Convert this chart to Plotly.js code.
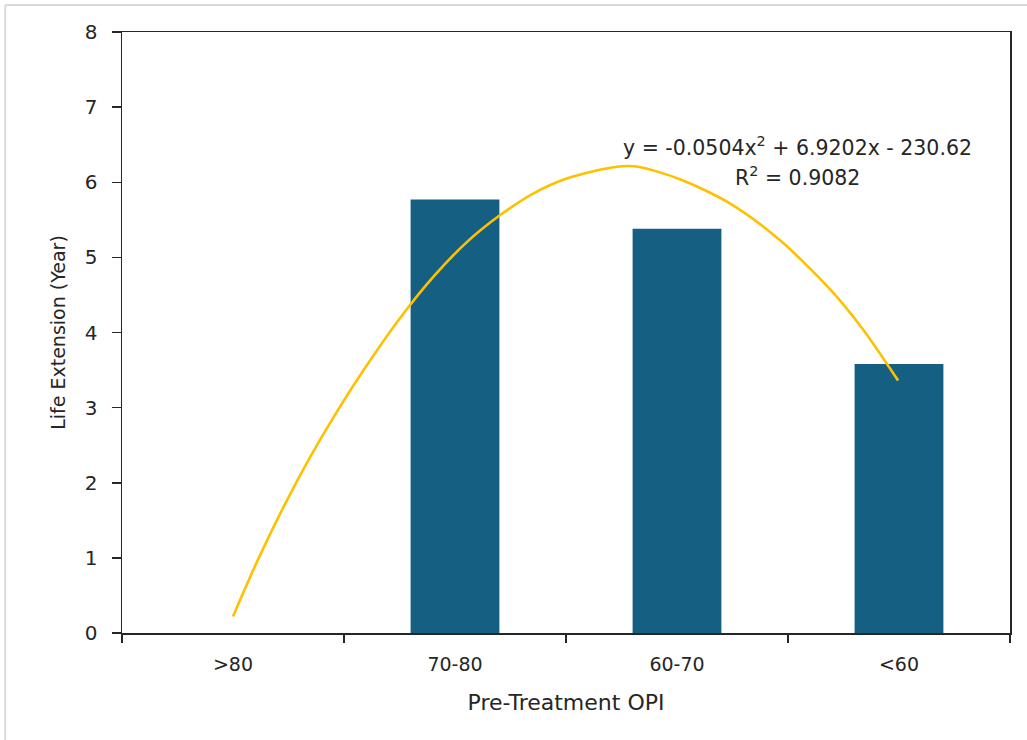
<!DOCTYPE html>
<html>
<head>
<meta charset="utf-8">
<script src="https://cdn.plot.ly/plotly-3.0.1.min.js"></script>
<style>
  html, body { margin: 0; padding: 0; background: #ffffff; }
  #chart { width: 1027px; height: 740px; }
</style>
</head>
<body>
<div id="chart"></div>
<script>
// ---- data ----
const categories = ['>80', '70-80', '60-70', '<60'];
const categoryPos = [1, 2, 3, 4];
const lifeExtension = [0, 5.77, 5.38, 3.58];

// polynomial trendline, points (x in category units)
const trendX = [1.0, 1.113, 1.233, 1.353, 1.473, 1.602, 1.752, 1.902, 2.052, 2.202, 2.352, 2.503, 2.713, 2.818, 3.013, 3.238, 3.463, 3.688, 3.838, 3.996];
const trendY = [0.22, 0.98, 1.71, 2.37, 2.97, 3.56, 4.19, 4.74, 5.20, 5.56, 5.85, 6.05, 6.20, 6.21, 6.04, 5.72, 5.23, 4.58, 4.04, 3.36];

const equationText = 'y = -0.0504x<sup>2</sup> + 6.9202x - 230.62';
const r2Text = 'R<sup>2</sup> = 0.9082';

const categoryEdges = [0.5, 1.5, 2.5, 3.5, 4.5];
const yTicks = [0, 1, 2, 3, 4, 5, 6, 7, 8];

const FONT = 'DejaVu Sans, Verdana, sans-serif';
const TXT = '#262626';
const AX = '#262626';

const traces = [
  {
    type: 'bar',
    x: categoryPos,
    y: lifeExtension,
    width: 0.4,
    marker: { color: '#156082', line: { width: 0 } },
    hoverinfo: 'skip',
    showlegend: false
  },
  {
    type: 'scatter',
    mode: 'lines',
    x: trendX,
    y: trendY,
    line: { color: '#FFC000', width: 2.6, shape: 'spline', smoothing: 0.8 },
    hoverinfo: 'skip',
    showlegend: false
  }
];

const layout = {
  width: 1027,
  height: 740,
  margin: { l: 122, r: 17, t: 32, b: 107 },
  paper_bgcolor: '#ffffff',
  plot_bgcolor: '#ffffff',
  font: { family: FONT, color: TXT },
  showlegend: false,
  xaxis: {
    range: [0.5, 4.5],
    tickmode: 'array',
    tickvals: categoryPos,
    ticktext: categories,
    ticks: '',
    tickfont: { size: 19, color: TXT, family: FONT },
    ticklabelstandoff: 14,
    showgrid: false,
    zeroline: false,
    showline: true,
    linecolor: AX,
    linewidth: 1.5,
    mirror: true,
    minor: {
      tickmode: 'array',
      tickvals: categoryEdges,
      ticks: 'outside',
      ticklen: 8,
      tickwidth: 1.5,
      tickcolor: AX,
      showgrid: false
    },
    title: { text: 'Pre-Treatment OPI', font: { size: 22, color: TXT, family: FONT }, standoff: 20 },
    fixedrange: true
  },
  yaxis: {
    range: [0, 8],
    tickmode: 'array',
    tickvals: yTicks,
    ticks: 'outside',
    ticklen: 9,
    tickwidth: 1.5,
    tickcolor: AX,
    tickfont: { size: 20, color: TXT, family: FONT },
    ticklabelstandoff: 10,
    showgrid: false,
    zeroline: false,
    showline: true,
    linecolor: AX,
    linewidth: 1.5,
    mirror: true,
    title: { text: 'Life Extension (Year)', font: { size: 19, color: TXT, family: FONT }, standoff: 14 },
    fixedrange: true
  },
  annotations: [
    {
      xref: 'x', yref: 'y', x: 3.545, y: 6.47,
      text: equationText, showarrow: false,
      xanchor: 'center', yanchor: 'middle',
      font: { size: 20.5, color: TXT, family: FONT }
    },
    {
      xref: 'x', yref: 'y', x: 3.545, y: 6.07,
      text: r2Text, showarrow: false,
      xanchor: 'center', yanchor: 'middle',
      font: { size: 20.5, color: TXT, family: FONT }
    }
  ],
  shapes: [
    { type: 'line', xref: 'paper', yref: 'paper', x0: -0.1315, x1: 1.03, y0: 1.045, y1: 1.045, line: { color: '#d9d9d9', width: 2 } },
    { type: 'line', xref: 'paper', yref: 'paper', x0: -0.1315, x1: -0.1315, y0: 1.045, y1: -0.2, line: { color: '#d9d9d9', width: 2 } }
  ]
};

Plotly.newPlot('chart', traces, layout, { displayModeBar: false, staticPlot: true });
</script>
</body>
</html>
